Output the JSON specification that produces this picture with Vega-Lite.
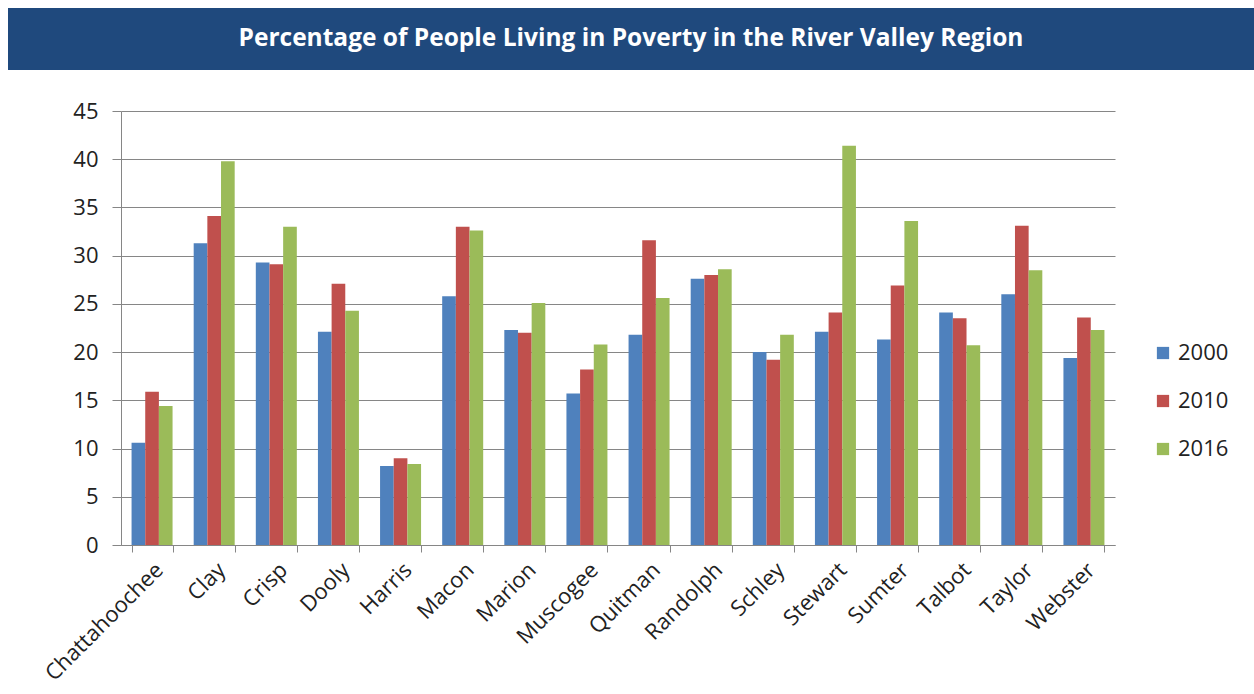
{
  "$schema": "https://vega.github.io/schema/vega-lite/v6.json",
  "padding": {"left": 8, "top": 8, "right": 0, "bottom": 0},
  "background": "white",
  "spacing": 30,
  "config": {"view": {"stroke": null}, "font": "Open Sans"},
  "datasets": {
    "poverty": [
      {"county": "Chattahoochee", "year": "2000", "pct": 10.6},
      {"county": "Chattahoochee", "year": "2010", "pct": 15.9},
      {"county": "Chattahoochee", "year": "2016", "pct": 14.4},
      {"county": "Clay", "year": "2000", "pct": 31.3},
      {"county": "Clay", "year": "2010", "pct": 34.1},
      {"county": "Clay", "year": "2016", "pct": 39.8},
      {"county": "Crisp", "year": "2000", "pct": 29.3},
      {"county": "Crisp", "year": "2010", "pct": 29.1},
      {"county": "Crisp", "year": "2016", "pct": 33.0},
      {"county": "Dooly", "year": "2000", "pct": 22.1},
      {"county": "Dooly", "year": "2010", "pct": 27.1},
      {"county": "Dooly", "year": "2016", "pct": 24.3},
      {"county": "Harris", "year": "2000", "pct": 8.2},
      {"county": "Harris", "year": "2010", "pct": 9.0},
      {"county": "Harris", "year": "2016", "pct": 8.4},
      {"county": "Macon", "year": "2000", "pct": 25.8},
      {"county": "Macon", "year": "2010", "pct": 33.0},
      {"county": "Macon", "year": "2016", "pct": 32.6},
      {"county": "Marion", "year": "2000", "pct": 22.3},
      {"county": "Marion", "year": "2010", "pct": 22.0},
      {"county": "Marion", "year": "2016", "pct": 25.1},
      {"county": "Muscogee", "year": "2000", "pct": 15.7},
      {"county": "Muscogee", "year": "2010", "pct": 18.2},
      {"county": "Muscogee", "year": "2016", "pct": 20.8},
      {"county": "Quitman", "year": "2000", "pct": 21.8},
      {"county": "Quitman", "year": "2010", "pct": 31.6},
      {"county": "Quitman", "year": "2016", "pct": 25.6},
      {"county": "Randolph", "year": "2000", "pct": 27.6},
      {"county": "Randolph", "year": "2010", "pct": 28.0},
      {"county": "Randolph", "year": "2016", "pct": 28.6},
      {"county": "Schley", "year": "2000", "pct": 20.0},
      {"county": "Schley", "year": "2010", "pct": 19.2},
      {"county": "Schley", "year": "2016", "pct": 21.8},
      {"county": "Stewart", "year": "2000", "pct": 22.1},
      {"county": "Stewart", "year": "2010", "pct": 24.1},
      {"county": "Stewart", "year": "2016", "pct": 41.4},
      {"county": "Sumter", "year": "2000", "pct": 21.3},
      {"county": "Sumter", "year": "2010", "pct": 26.9},
      {"county": "Sumter", "year": "2016", "pct": 33.6},
      {"county": "Talbot", "year": "2000", "pct": 24.1},
      {"county": "Talbot", "year": "2010", "pct": 23.5},
      {"county": "Talbot", "year": "2016", "pct": 20.7},
      {"county": "Taylor", "year": "2000", "pct": 26.0},
      {"county": "Taylor", "year": "2010", "pct": 33.1},
      {"county": "Taylor", "year": "2016", "pct": 28.5},
      {"county": "Webster", "year": "2000", "pct": 19.4},
      {"county": "Webster", "year": "2010", "pct": 23.6},
      {"county": "Webster", "year": "2016", "pct": 22.3}
    ],
    "banner": [{"title": "Percentage of People Living in Poverty in the River Valley Region"}],
    "empty": []
  },
  "vconcat": [
    {
      "width": 1246,
      "height": 62,
      "view": {"fill": "#1f497d", "stroke": null},
      "data": {"name": "banner"},
      "mark": {"type": "text", "color": "white", "fontSize": 24.5, "fontWeight": "bold", "font": "Open Sans", "align": "center", "baseline": "middle"},
      "encoding": {"text": {"field": "title"}}
    },
    {
      "spacing": 0,
      "hconcat": [
        {
          "width": 1,
          "height": 1,
          "data": {"name": "empty"},
          "mark": {"type": "point", "opacity": 0},
          "encoding": {}
        },
        {
          "width": 994,
          "height": 434,
          "data": {"name": "poverty"},
          "mark": {"type": "bar"},
          "encoding": {
            "x": {
              "field": "county", "type": "nominal", "sort": null,
              "scale": {"paddingInner": 0.34, "paddingOuter": 0.17},
              "axis": {"title": null, "labelAngle": -45, "labelFontSize": 22, "labelColor": "#222", "labelFont": "Open Sans",
                       "tickBand": "extent", "ticks": true, "tickSize": 7, "tickColor": "#868686", "domainColor": "#868686", "labelPadding": 7}
            },
            "xOffset": {"field": "year", "type": "nominal"},
            "y": {
              "field": "pct", "type": "quantitative",
              "scale": {"domain": [0, 45], "nice": false},
              "axis": {"title": null, "values": [0,5,10,15,20,25,30,35,40,45], "labelFontSize": 22, "labelColor": "#222", "labelFont": "Open Sans",
                       "gridColor": "#868686", "gridOpacity": 1, "tickColor": "#868686", "tickSize": 9, "domainColor": "#868686", "labelPadding": 14,
                       "minExtent": 112}
            },
            "color": {
              "field": "year", "type": "nominal",
              "scale": {"domain": ["2000", "2010", "2016"], "range": ["#4f81bd", "#c0504d", "#9bbb59"]},
              "legend": {"title": null, "orient": "none", "legendX": 1144, "legendY": 334, "symbolType": "square", "symbolSize": 150,
                         "symbolStrokeWidth": 0, "labelFontSize": 22, "labelFont": "Open Sans", "labelColor": "#222", "rowPadding": 26, "labelOffset": 4}
            }
          }
        }
      ]
    }
  ]
}
